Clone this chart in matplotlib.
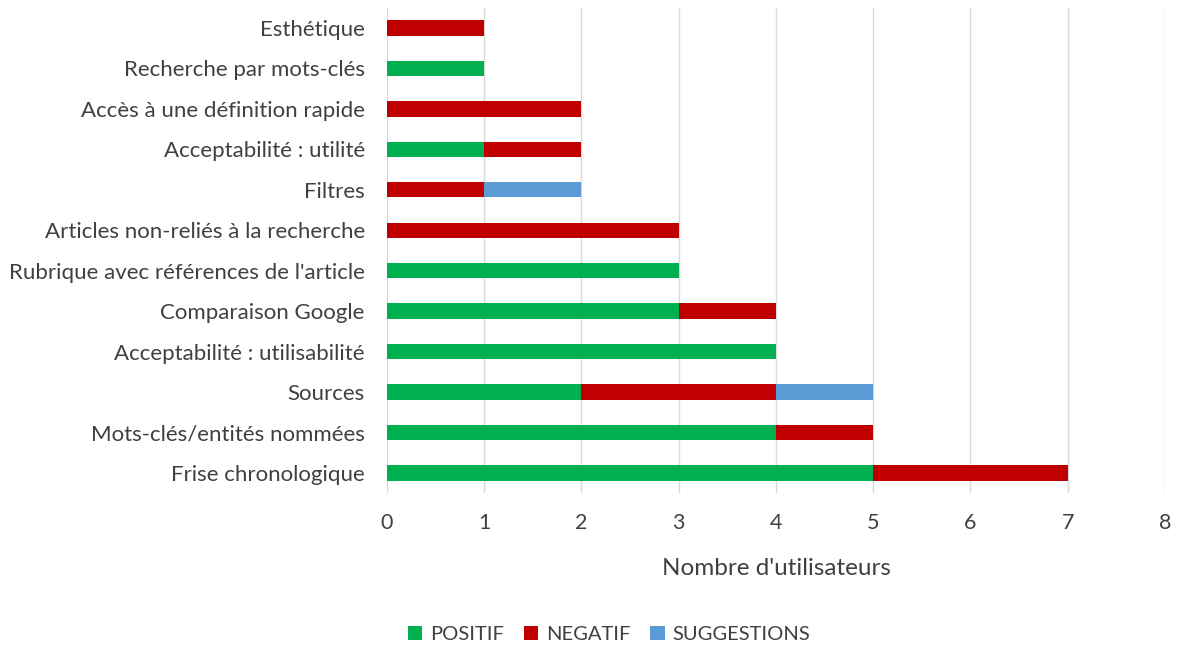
import numpy as np
import matplotlib
matplotlib.use("Agg")
import matplotlib.pyplot as plt

plt.rcParams['font.family'] = ['Lato', 'DejaVu Sans']

# categories, bottom to top
categories = ["Frise chronologique", "Mots-clés/entités nommées", "Sources",
              "Acceptabilité : utilisabilité", "Comparaison Google",
              "Rubrique avec références de l'article",
              "Articles non-reliés à la recherche", "Filtres",
              "Acceptabilité : utilité", "Accès à une définition rapide",
              "Recherche par mots-clés", "Esthétique"]
positif = [5, 4, 2, 4, 3, 3, 0, 0, 1, 0, 1, 0]
negatif = [2, 1, 2, 0, 1, 0, 3, 1, 1, 2, 0, 1]
suggestions = [0, 0, 1, 0, 0, 0, 0, 1, 0, 0, 0, 0]
series_names = ["POSITIF", "NEGATIF", "SUGGESTIONS"]
colors = ["#00B050", "#C00000", "#5B9BD5"]

fig = plt.figure(figsize=(11.78, 6.48), dpi=100)
ax = fig.add_axes([0.3285, 0.239, 0.6604, 0.749])

y = np.arange(len(categories))
h = 0.38
pos = np.array(positif)
neg = np.array(negatif)
sug = np.array(suggestions)
ax.barh(y, pos, height=h, color=colors[0], label=series_names[0], zorder=3)
ax.barh(y, neg, left=pos, height=h, color=colors[1], label=series_names[1], zorder=3)
ax.barh(y, sug, left=pos + neg, height=h, color=colors[2], label=series_names[2], zorder=3)

ax.set_xlim(0, 8)
ax.set_ylim(-0.5, len(categories) - 0.5)
ax.set_xticks(range(0, 9))
ax.set_yticks(y)
ax.set_yticklabels(categories, fontsize=16)
ax.grid(axis='x', color='#D9D9D9', linewidth=1, zorder=0)
for s in ax.spines.values():
    s.set_visible(False)
ax.tick_params(axis='both', length=0, colors='#404040')
ax.tick_params(axis='x', pad=14, labelsize=15.5)
ax.tick_params(axis='y', pad=16)
ax.set_xlabel("Nombre d'utilisateurs", fontsize=17.5, color='#404040', labelpad=18)

leg = fig.legend(loc='center', bbox_to_anchor=(0.517, 0.021), ncol=3, frameon=False,
                 fontsize=14.5, handlelength=0.7, handleheight=0.7, columnspacing=1.0,
                 handletextpad=0.4)
for t in leg.get_texts():
    t.set_color('#404040')

fig.savefig("out.png", dpi=100)
